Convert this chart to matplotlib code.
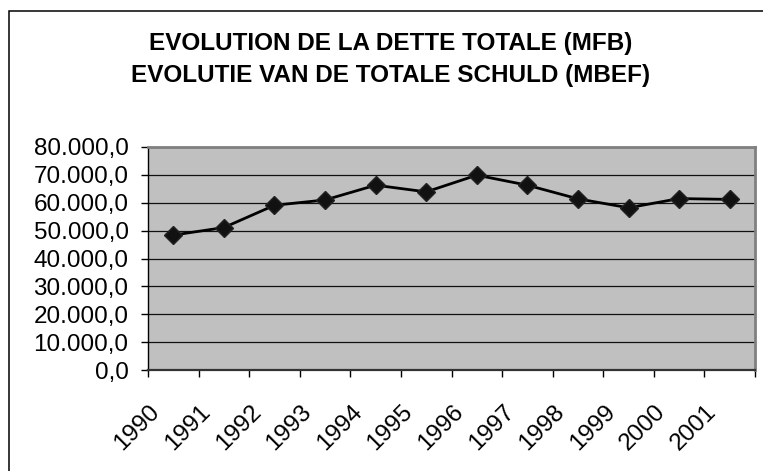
import matplotlib
matplotlib.use("Agg")
import matplotlib.pyplot as plt
from matplotlib.patches import Rectangle
from matplotlib.transforms import ScaledTranslation

plt.rcParams['font.family'] = ['Liberation Sans', 'DejaVu Sans']

years = ["1990", "1991", "1992", "1993", "1994", "1995", "1996",
         "1997", "1998", "1999", "2000", "2001"]
debt = [48400, 51100, 59100, 61000, 66300, 63900, 69900,
        66300, 61400, 58200, 61500, 61200]
y_ticks = [0, 10000, 20000, 30000, 40000, 50000, 60000, 70000, 80000]
y_tick_labels = ["0,0", "10.000,0", "20.000,0", "30.000,0", "40.000,0",
                 "50.000,0", "60.000,0", "70.000,0", "80.000,0"]
title_lines = ["EVOLUTION DE LA DETTE TOTALE (MFB)",
               "EVOLUTIE VAN DE TOTALE SCHULD (MBEF)"]

W, H = 763, 471
fig = plt.figure(figsize=(W / 100, H / 100), dpi=100)
fig.patch.set_facecolor('white')

# outer chart border
fig.patches.append(Rectangle((8.5 / W, -0.05), 1.2, 1 - 11 / H + 0.05,
                             transform=fig.transFigure, fill=False,
                             edgecolor='black', linewidth=1.1))

ax = fig.add_axes([148 / W, 1 - 370 / H, (755 - 148) / W, (370 - 147) / H])
ax.set_facecolor('#C0C0C0')

x = list(range(len(years)))
ax.plot(x, debt, color='black', linewidth=2, marker='D', markersize=9,
        markerfacecolor='#111111', markeredgecolor='#222222', zorder=3)

ax.set_xlim(-0.5, len(years) - 0.5)
ax.set_ylim(0, 80000)

ax.set_yticks(y_ticks)
ax.set_yticklabels(y_tick_labels, fontsize=17.5)
ax.yaxis.grid(True, color='#111111', linewidth=0.9)
ax.set_axisbelow(True)
ax.tick_params(axis='y', length=5, width=1, pad=9, color='black')

ax.set_xticks([i - 0.5 for i in range(len(years) + 1)])
ax.set_xticklabels([])
ax.tick_params(axis='x', which='major', length=5, width=1, color='black')
ax.set_xticks(x, minor=True)
ax.set_xticklabels(years, minor=True, rotation=45, ha='right', va='top',
                   fontsize=17.5)
ax.tick_params(axis='x', which='minor', length=0, pad=22)
for lab in ax.get_xticklabels(minor=True):
    lab.set_transform(lab.get_transform() +
                      ScaledTranslation(-9 / 100, 0, fig.dpi_scale_trans))

for side in ['top', 'right']:
    ax.spines[side].set_color('#808080')
    ax.spines[side].set_linewidth(2)
ax.spines['left'].set_color('black')
ax.spines['left'].set_linewidth(1)
ax.spines['bottom'].set_color('#333333')
ax.spines['bottom'].set_linewidth(1.6)

fig.text(391 / W, 1 - 50 / H, title_lines[0], ha='center', va='baseline',
         fontsize=17.5, fontweight='bold')
fig.text(391 / W, 1 - 82 / H, title_lines[1], ha='center', va='baseline',
         fontsize=17.5, fontweight='bold')

fig.savefig('out.png', dpi=100)
